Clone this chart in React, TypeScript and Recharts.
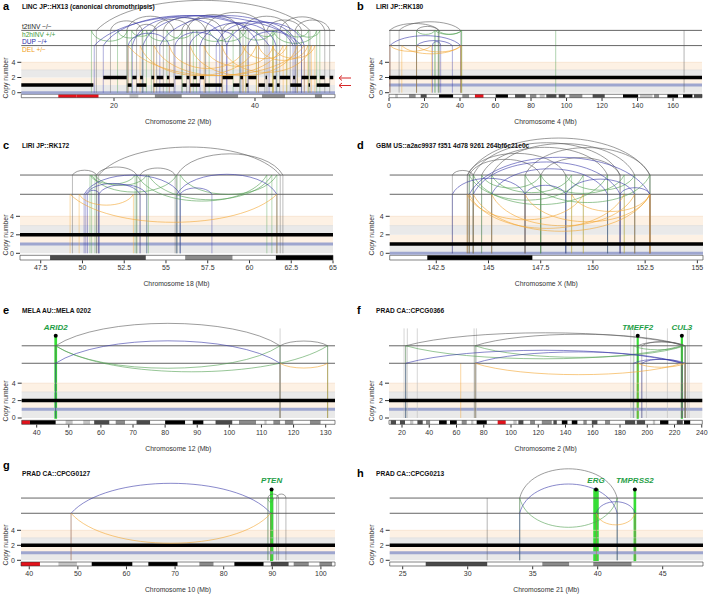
import React from "react";
import { ComposedChart, XAxis, YAxis, ReferenceLine, ReferenceArea, ReferenceDot, Label } from "recharts";

type SvType = "t2t" | "h2h" | "dup" | "del";
type Sv = [number, number, SvType];
type Seg = [number, number, number];
type Band = [number, number, string];
type Gene = [number, number, string];

const svColor: Record<SvType, string> = { t2t: "#5a5a5a", h2h: "#4f9e4f", dup: "#3838a8", del: "#f3a530" };
const stainColor: Record<string, string> = { gpos25: "#c4c4c4", gpos50: "#8a8a8a", gpos75: "#4a4a4a", gpos100: "#000000", acen: "#e3121b" };
const geneColor = "#36dd36";

// ---- a: LINC chr22 ----
const svA: Sv[] = [
  [17.5, 47.8, "t2t"], [21.8, 28.5, "t2t"], [23.2, 26.05, "t2t"], [27.0, 33.0, "t2t"], [29.6, 35.3, "t2t"], [30.3, 37.8, "t2t"],
  [32.9, 41.4, "t2t"], [35.4, 39.05, "t2t"], [38.3, 45.0, "t2t"], [41.7, 46.6, "t2t"], [43.5, 49.9, "t2t"], [45.7, 50.6, "t2t"],
  [25.6, 30.8, "t2t"], [19.5, 24.0, "t2t"],
  [16.8, 21.9, "h2h"], [20.5, 24.1, "h2h"], [22.5, 25.3, "h2h"], [24.6, 29.7, "h2h"], [27.5, 31.25, "h2h"], [31.7, 36.9, "h2h"],
  [33.5, 38.7, "h2h"], [37.9, 42.5, "h2h"], [40.2, 43.1, "h2h"], [42.6, 48.75, "h2h"], [44.5, 47.6, "h2h"], [46.0, 49.2, "h2h"],
  [17.2, 46.6, "dup"], [18.48, 42.0, "dup"], [22.0, 27.85, "dup"], [22.6, 36.0, "dup"], [24.1, 40.5, "dup"], [26.5, 45.4, "dup"],
  [28.65, 35.0, "dup"], [30.7, 38.0, "dup"], [32.2, 43.0, "dup"], [34.5, 46.0, "dup"], [36.0, 47.0, "dup"], [39.0, 45.7, "dup"],
  [22.0, 47.0, "del"], [23.7, 40.2, "del"], [25.7, 44.0, "del"], [27.85, 38.7, "del"], [30.8, 46.0, "del"], [32.77, 42.6, "del"],
  [35.3, 48.0, "del"], [38.3, 44.5, "del"], [40.5, 47.5, "del"], [42.5, 48.5, "del"],
];
const cnA: Seg[] = [
  [6.85, 17.07, 1], [21.94, 22.5, 1], [23.2, 24.6, 1], [25.6, 28.5, 1], [29.7, 30.3, 1], [30.8, 32.2, 1], [32.9, 35.3, 1],
  [36.9, 37.8, 1], [38.7, 39.05, 1], [40.5, 41.4, 1], [41.9, 42.5, 1], [43.1, 43.5, 1], [45.0, 46.6, 1], [47.6, 47.8, 1], [48.75, 50.6, 1],
  [18.48, 21.8, 2], [22.6, 23.2, 2], [23.7, 24.1, 2], [25.3, 25.7, 2], [26.05, 27.0, 2], [27.5, 27.85, 2], [28.65, 29.6, 2],
  [30.3, 30.7, 2], [31.25, 31.7, 2], [32.2, 32.77, 2], [35.4, 36.9, 2], [37.9, 38.3, 2], [39.05, 40.2, 2], [41.5, 41.7, 2],
  [42.6, 43.0, 2], [43.5, 45.0, 2], [45.4, 45.7, 2], [46.6, 47.6, 2], [47.8, 48.75, 2], [49.2, 49.9, 2], [50.6, 51.1, 2],
];
const minorA: Seg[] = [[6.85, 51.35, 0]];
const bandsA: Band[] = [
  [12.1, 14.7, "acen"], [14.7, 17.8, "acen"], [22.2, 23.45, "gpos25"], [25.8, 29.6, "gpos50"], [32.2, 37.6, "gpos50"],
  [41.0, 44.25, "gpos50"], [48.5, 49.5, "gpos50"],
];

// ---- b: LIRI chr4 ----
const svB: Sv[] = [
  [0.5, 28.3, "t2t"], [5.7, 40.4, "t2t"], [15.5, 27.8, "t2t"],
  [15.5, 25.9, "h2h"], [25.9, 40.9, "h2h"], [27.8, 40.9, "h2h"],
  [0.5, 40.4, "dup"], [15.5, 35.7, "dup"], [24.5, 29.1, "dup"],
  [0.5, 24.0, "del"], [7.2, 40.4, "del"], [15.5, 40.9, "del"],
];
const singlesB: [number, SvType][] = [[93.9, "h2h"], [166.2, "t2t"]];
const cnB: Seg[] = [[0, 176.3, 2]];
const minorB: Seg[] = [[0, 176.3, 1]];
const bandsB: Band[] = [
  [3.5, 5.0, "gpos25"], [11.3, 15.0, "gpos50"], [17.85, 21.2, "gpos75"], [28.2, 36.1, "gpos100"], [41.3, 45.1, "gpos50"],
  [48.4, 53.2, "acen"], [60.1, 67.0, "gpos100"], [71.0, 77.0, "gpos75"], [79.4, 83.0, "gpos50"], [84.9, 87.7, "gpos25"],
  [88.6, 94.3, "gpos75"], [95.6, 99.3, "gpos75"], [101.6, 108.9, "gpos50"], [114.7, 121.5, "gpos75"], [131.8, 140.3, "gpos100"],
  [141.4, 148.4, "gpos25"], [149.3, 152.1, "gpos50"], [156.8, 162.8, "gpos100"], [165.6, 170.9, "gpos100"], [171.8, 176.3, "gpos75"],
];

// ---- c: LIRI chr18 ----
const svC: Sv[] = [
  [49.4, 50.85, "t2t"], [50.85, 53.25, "t2t"], [53.45, 55.55, "t2t"], [50.97, 61.84, "t2t"], [55.65, 62.0, "t2t"],
  [50.45, 53.15, "h2h"], [50.55, 55.65, "h2h"], [50.75, 53.85, "h2h"], [53.25, 61.04, "h2h"], [53.95, 61.34, "h2h"], [55.85, 61.64, "h2h"],
  [50.1, 55.85, "dup"], [50.2, 53.45, "dup"], [50.97, 53.85, "dup"], [55.65, 61.64, "dup"], [55.85, 57.75, "dup"], [50.3, 51.0, "dup"],
  [49.26, 61.64, "del"], [49.8, 53.05, "del"],
];
const cnC: Seg[] = [[46.26, 65, 2]];
const minorC: Seg[] = [[46.26, 65, 1]];
const bandsC: Band[] = [[48.06, 53.79, "gpos75"], [56.15, 58.98, "gpos50"], [61.58, 65, "gpos100"]];

// ---- d: GBM chrX ----
const svD: Sv[] = [
  [143.27, 144.27, "t2t"], [143.98, 148.7, "t2t"], [144.0, 152.73, "t2t"], [144.27, 151.3, "t2t"], [144.67, 150.7, "t2t"],
  [145.15, 152.0, "t2t"], [146.75, 152.73, "t2t"], [147.5, 151.3, "t2t"], [144.08, 147.5, "t2t"],
  [144.08, 149.54, "h2h"], [144.27, 150.7, "h2h"], [144.67, 147.5, "h2h"], [145.15, 148.98, "h2h"], [146.75, 152.73, "h2h"],
  [147.5, 151.5, "h2h"], [148.7, 152.0, "h2h"],
  [143.27, 146.75, "dup"], [144.08, 152.73, "dup"], [144.27, 151.3, "dup"], [145.15, 150.7, "dup"], [146.75, 148.7, "dup"],
  [148.7, 152.0, "dup"], [151.3, 152.73, "dup"],
  [143.98, 149.54, "del"], [144.08, 151.5, "del"], [144.27, 152.73, "del"], [145.15, 152.0, "del"], [146.75, 152.73, "del"], [148.98, 152.73, "del"],
];
const cnD: Seg[] = [[140.27, 155.27, 1]];
const minorD: Seg[] = [[140.27, 155.27, 0]];
const bandsD: Band[] = [[142.07, 147.1, "gpos100"]];

// ---- e: MELA chr12 ----
const svE: Sv[] = [
  [45.9, 115.8, "t2t"], [115.8, 130.6, "t2t"],
  [45.9, 130.6, "h2h"], [45.9, 115.8, "h2h"],
  [45.9, 115.8, "dup"],
  [115.8, 130.6, "del"],
];
const traE: number[] = [115.8];
const genesE: Gene[] = [[45.75, 46.1, "ARID2"]];
const cnE: Seg[] = [[35.33, 132.9, 2]];
const minorE: Seg[] = [[35.33, 132.9, 1]];
const bandsE: Band[] = [
  [35.33, 37.9, "acen"], [37.9, 45.9, "gpos100"], [49.0, 51.2, "gpos25"], [54.5, 56.6, "gpos25"], [57.9, 62.6, "gpos75"],
  [64.6, 67.5, "gpos50"], [71.1, 75.3, "gpos75"], [80.0, 86.2, "gpos100"], [88.6, 91.9, "gpos100"], [95.7, 100.9, "gpos75"],
  [103.0, 108.3, "gpos50"], [110.9, 111.6, "gpos25"], [113.7, 115.8, "gpos50"], [117.3, 119.9, "gpos50"], [125.1, 128.4, "gpos50"],
];

// ---- f: PRAD chr2 ----
const svF: Sv[] = [
  [22.7, 227.8, "t2t"], [73.6, 227.8, "t2t"], [193.0, 227.8, "t2t"], [196.0, 225.4, "t2t"],
  [22.7, 225.4, "h2h"], [73.6, 227.8, "h2h"], [189.8, 225.4, "h2h"],
  [22.7, 225.4, "dup"], [73.6, 225.4, "dup"], [189.8, 227.8, "dup"], [196.0, 225.4, "dup"],
  [73.6, 225.4, "del"], [193.0, 227.8, "del"],
];
const singlesF: [number, SvType][] = [[63.1, "del"]];
const traF: number[] = [21.5, 23.9, 31.2, 72.9, 74.6, 187.9, 190.3, 199.4, 214.8, 229.5, 230.7];
const genesF: Gene[] = [[192.8, 193.2, "TMEFF2"], [225.2, 225.6, "CUL3"]];
const cnF: Seg[] = [[10.45, 240.4, 2]];
const minorF: Seg[] = [[10.45, 240.4, 1]];
const bandsF: Band[] = [
  [11.7, 15.6, "gpos75"], [18.5, 22.2, "gpos75"], [25.9, 28.3, "gpos25"], [31.3, 35.2, "gpos75"], [37.6, 40.6, "gpos50"],
  [47.2, 52.8, "gpos100"], [55.2, 60.2, "gpos100"], [63.8, 67.5, "gpos50"], [70.7, 72.4, "gpos25"], [74.8, 82.2, "gpos100"],
  [90.2, 96.1, "acen"], [101.7, 104.2, "gpos25"], [105.4, 109.1, "gpos75"], [114.0, 117.6, "gpos50"], [122.6, 129.9, "gpos50"],
  [131.1, 133.6, "gpos75"], [137.3, 141.4, "gpos100"], [144.6, 148.7, "gpos100"], [153.1, 155.6, "gpos50"], [159.3, 163.4, "gpos75"],
  [169.0, 172.7, "gpos50"], [183.7, 191.1, "gpos75"], [192.3, 198.4, "gpos75"], [204.1, 205.8, "gpos25"], [209.4, 215.5, "gpos100"],
  [221.7, 226.1, "gpos75"], [227.0, 231.5, "gpos100"],
];

// ---- g: PRAD chr10 ----
const svG: Sv[] = [
  [89.1, 91.3, "t2t"], [90.9, 92.8, "t2t"],
  [89.1, 90.2, "h2h"],
  [48.6, 89.7, "dup"],
  [48.6, 89.7, "del"],
];
const genesG: Gene[] = [[89.7, 90.0, "PTEN"]];
const cnG: Seg[] = [[38.3, 102.9, 2]];
const minorG: Seg[] = [[38.3, 102.9, 1]];
const bandsG: Band[] = [
  [38.3, 42.2, "acen"], [46.0, 49.8, "gpos25"], [52.85, 61.2, "gpos100"], [64.5, 70.5, "gpos100"], [75.0, 77.9, "gpos50"],
  [82.2, 88.2, "gpos100"], [89.7, 93.35, "gpos75"], [94.4, 97.5, "gpos50"], [99.7, 102.3, "gpos50"],
];

// ---- h: PRAD chr21 ----
const svH: Sv[] = [
  [34.0, 41.5, "t2t"],
  [34.0, 41.5, "h2h"],
  [34.0, 41.5, "dup"], [39.9, 42.87, "dup"],
  [39.9, 42.87, "del"],
];
const singlesH: [number, SvType][] = [[31.5, "t2t"]];
const genesH: Gene[] = [[39.72, 40.02, "ERG"], [42.82, 42.9, "TMPRSS2"]];
const cnH: Seg[] = [[24, 48.1, 2]];
const minorH: Seg[] = [[24, 48.1, 1]];
const bandsH: Band[] = [[26.77, 31.5, "gpos75"], [35.74, 37.8, "gpos50"], [39.66, 42.6, "gpos50"]];

// layout for each row of panels (pixels)
const rows = [
  { chartTop: 0, chartH: 140, plotTop: 0, y0: 92.7, p: 7.6, ideoTop: 94.3, ideoBot: 97.7, yBot: 98, upper: 8.2, lower: 6.2 },
  { chartTop: 136, chartH: 164, plotTop: 150, y0: 253.3, p: 9.25, ideoTop: 255.3, ideoBot: 260, yBot: 260.3, upper: 8.46, lower: 6.38 },
  { chartTop: 300, chartH: 155, plotTop: 320, y0: 418, p: 8.7, ideoTop: 420.3, ideoBot: 424.3, yBot: 424.6, upper: 8.3, lower: 6.29 },
  { chartTop: 450, chartH: 144, plotTop: 470, y0: 560.3, p: 7.5, ideoTop: 562, ideoBot: 566, yBot: 566.3, upper: 8.3, lower: 6.27 },
];

type PanelCfg = {
  id: string; row: number; col: number; title: string; chrom: string; xL: number; xR: number;
  domain: [number, number]; ticks: number[]; sv: Sv[]; cn: Seg[]; minor: Seg[]; bands: Band[];
  singles?: [number, SvType][]; tra?: number[]; genes?: Gene[]; k: number; cap: number;
};

const panels: PanelCfg[] = [
  { id: "a", row: 0, col: 0, title: "LINC JP::HX13 (canonical chromothripsis)", chrom: "22", xL: 21.3, xR: 335, domain: [6.85, 51.35], ticks: [20, 40], sv: svA, cn: cnA, minor: minorA, bands: bandsA, k: 0.3, cap: 30 },
  { id: "b", row: 0, col: 1, title: "LIRI JP::RK180", chrom: "4", xL: 389, xR: 702, domain: [0, 176.3], ticks: [0, 20, 40, 60, 80, 100, 120, 140, 160], sv: svB, cn: cnB, minor: minorB, bands: bandsB, singles: singlesB, k: 0.14, cap: 12 },
  { id: "c", row: 1, col: 0, title: "LIRI JP::RK172", chrom: "18", xL: 20, xR: 333, domain: [46.26, 65], ticks: [47.5, 50, 52.5, 55, 57.5, 60, 62.5, 65], sv: svC, cn: cnC, minor: minorC, bands: bandsC, k: 0.2, cap: 28 },
  { id: "d", row: 1, col: 1, title: "GBM US::a2ac9937 f351 4d78 9261 264bf6c21e0c", chrom: "X", xL: 389.7, xR: 703, domain: [140.27, 155.27], ticks: [142.5, 145, 147.5, 150, 152.5, 155], sv: svD, cn: cnD, minor: minorD, bands: bandsD, k: 0.22, cap: 37 },
  { id: "e", row: 2, col: 0, title: "MELA AU::MELA 0202", chrom: "12", xL: 21.7, xR: 335, domain: [35.33, 132.9], ticks: [40, 50, 60, 70, 80, 90, 100, 110, 120, 130], sv: svE, cn: cnE, minor: minorE, bands: bandsE, tra: traE, genes: genesE, k: 0.1, cap: 26 },
  { id: "f", row: 2, col: 1, title: "PRAD CA::CPCG0366", chrom: "2", xL: 389, xR: 702.3, domain: [10.45, 240.4], ticks: [20, 40, 60, 80, 100, 120, 140, 160, 180, 200, 220, 240], sv: svF, cn: cnF, minor: minorF, bands: bandsF, singles: singlesF, tra: traF, genes: genesF, k: 0.055, cap: 13 },
  { id: "g", row: 3, col: 0, title: "PRAD CA::CPCG0127", chrom: "10", xL: 21, xR: 335, domain: [38.3, 102.9], ticks: [40, 50, 60, 70, 80, 90, 100], sv: svG, cn: cnG, minor: minorG, bands: bandsG, genes: genesG, k: 0.15, cap: 30 },
  { id: "h", row: 3, col: 1, title: "PRAD CA::CPCG0213", chrom: "21", xL: 389.7, xR: 703, domain: [24, 48.1], ticks: [25, 30, 35, 40, 45], sv: svH, cn: cnH, minor: minorH, bands: bandsH, singles: singlesH, genes: genesH, k: 0.3, cap: 30 },
];

const font = "'Liberation Sans', Arial, sans-serif";
const levelOf = (t: SvType, r: typeof rows[number]) => (t === "t2t" || t === "h2h" ? r.upper : r.lower);

// dome between the two pixel ends of a reference segment:
// steep ends for short arcs, softer shoulders for long flat ones
function arcShape(type: SvType, k: number, cap: number) {
  const dir = type === "t2t" || type === "dup" ? -1 : 1;
  return (props: any) => {
    const { x1, y1, x2 } = props;
    const span = Math.abs(x2 - x1);
    const h = Math.max(4, Math.min(k * span, cap));
    const a = 0.25 * (1 - Math.min(1, h / (0.5 * span)));
    const c = y1 + dir * h * (4 / 3);
    const d = `M${x1},${y1} C${x1 + span * a},${c} ${x2 - span * a},${c} ${x2},${y1}`;
    return <path d={d} fill="none" stroke={svColor[type]} strokeWidth={0.7} strokeOpacity={0.85} />;
  };
}

function Panel({ cfg }: { cfg: PanelCfg }) {
  const r = rows[cfg.row];
  const left = cfg.col * 354;
  const toCN = (px: number) => (r.y0 - px) / r.p;
  const yDomain: [number, number] = [toCN(r.yBot), toCN(r.plotTop)];
  const iy1 = toCN(r.ideoBot);
  const iy2 = toCN(r.ideoTop);
  const yAxisW = 16;
  const xAxisH = 26;
  const margin = {
    top: r.plotTop - r.chartTop,
    bottom: r.chartTop + r.chartH - r.yBot - xAxisH,
    left: cfg.xL - left - yAxisW,
    right: left + 354 - cfg.xR,
  };
  const [lo, hi] = cfg.domain;
  const geneTop = 9.45;

  return (
    <div style={{ position: "absolute", left, top: r.chartTop }}>
      <ComposedChart width={354} height={r.chartH} margin={margin} data={[]}>
        <XAxis
          type="number" dataKey="x" domain={cfg.domain} allowDataOverflow ticks={cfg.ticks} interval={0}
          axisLine={false} tickSize={3} height={xAxisH} stroke="#333"
          tick={{ fontSize: 7, fill: "#333", fontFamily: font }}
        >
          <Label value={`Chromosome ${cfg.chrom} (Mb)`} position="insideBottom" offset={0} style={{ fontSize: 6.8, fill: "#333", fontFamily: font }} />
        </XAxis>
        <YAxis
          type="number" domain={yDomain} allowDataOverflow ticks={[0, 2, 4]} interval={0} width={yAxisW}
          axisLine={false} tickSize={4} stroke="#333" tick={{ fontSize: 7, fill: "#333", fontFamily: font }}
        />

        {/* copy number background */}
        <ReferenceArea y1={0} y2={1} fill="#e9e9e9" fillOpacity={1} ifOverflow="visible" />
        <ReferenceArea y1={1} y2={2} fill="#fdf1e4" fillOpacity={1} ifOverflow="visible" />
        <ReferenceArea y1={2} y2={3} fill="#e9e9e9" fillOpacity={1} ifOverflow="visible" />
        <ReferenceArea y1={3} y2={4} fill="#fdf1e4" fillOpacity={1} ifOverflow="visible" />
        <ReferenceLine y={3} stroke="#d6d6d6" strokeWidth={0.6} ifOverflow="visible" />
        <ReferenceLine y={4} stroke="#f3dcc2" strokeWidth={0.6} ifOverflow="visible" />

        {cfg.minor.map(([s, e, v], i) => (
          <ReferenceLine key={`m${i}`} segment={[{ x: s, y: v }, { x: e, y: v }]} stroke="#9ea6cf" strokeWidth={3} ifOverflow="visible" />
        ))}

        {/* breakpoint verticals */}
        {cfg.sv.flatMap(([s, e, t], i) =>
          [s, e].map((x, j) => (
            <ReferenceLine key={`v${i}-${j}`} segment={[{ x, y: levelOf(t, r) }, { x, y: 0 }]} stroke={svColor[t]} strokeOpacity={0.45} strokeWidth={0.9} ifOverflow="visible" />
          ))
        )}
        {(cfg.singles || []).map(([x, t], i) => (
          <ReferenceLine key={`s${i}`} segment={[{ x, y: levelOf(t, r) }, { x, y: 0 }]} stroke={svColor[t]} strokeOpacity={0.5} strokeWidth={0.9} ifOverflow="visible" />
        ))}
        {(cfg.tra || []).map((x, i) => (
          <ReferenceLine key={`t${i}`} segment={[{ x, y: 10.3 }, { x, y: 0 }]} stroke="#bdbdbd" strokeOpacity={0.8} strokeWidth={0.8} ifOverflow="visible" />
        ))}

        {cfg.cn.map(([s, e, v], i) => (
          <ReferenceLine key={`c${i}`} segment={[{ x: s, y: v }, { x: e, y: v }]} stroke="#000" strokeWidth={3.5} ifOverflow="visible" />
        ))}

        <ReferenceLine y={r.upper} stroke="#555" strokeWidth={0.9} ifOverflow="visible" />
        <ReferenceLine y={r.lower} stroke="#555" strokeWidth={0.9} ifOverflow="visible" />

        {/* SV arcs */}
        {cfg.sv.map(([s, e, t], i) => (
          <ReferenceLine key={`a${i}`} segment={[{ x: s, y: levelOf(t, r) }, { x: e, y: levelOf(t, r) }]} ifOverflow="visible" shape={arcShape(t, cfg.k, cfg.cap)} />
        ))}

        {/* ideogram */}
        <ReferenceArea x1={lo} x2={hi} y1={iy1} y2={iy2} fill="#fff" fillOpacity={1} stroke="none" ifOverflow="visible" />
        {cfg.bands.map(([s, e, st], i) => (
          <ReferenceArea key={`b${i}`} x1={s} x2={e} y1={iy1} y2={iy2} fill={stainColor[st]} fillOpacity={1} stroke="none" ifOverflow="visible" />
        ))}
        <ReferenceArea x1={lo} x2={hi} y1={iy1} y2={iy2} fill="none" stroke="#333" strokeWidth={0.6} ifOverflow="visible" />

        {/* highlighted genes */}
        {(cfg.genes || []).map(([s, e], i) => (
          <ReferenceArea key={`g${i}`} x1={s} x2={e} y1={0} y2={geneTop} fill={geneColor} fillOpacity={1} stroke={geneColor} strokeWidth={1.6} ifOverflow="visible" />
        ))}
        {(cfg.genes || []).map(([s, e, name], i) => (
          <ReferenceDot key={`gd${i}`} x={(s + e) / 2} y={geneTop} r={2} fill="#000" stroke="none" ifOverflow="visible">
            <Label value={name} position="top" offset={4} style={{ fontSize: 8, fill: "#1e9e46", fontStyle: "italic", fontWeight: "bold", fontFamily: font }} />
          </ReferenceDot>
        ))}
      </ComposedChart>
    </div>
  );
}

const titleStyle: React.CSSProperties = { position: "absolute", fontFamily: font, fontSize: 6.6, fontWeight: "bold", color: "#111", whiteSpace: "nowrap", lineHeight: "8px" };
const letterStyle: React.CSSProperties = { position: "absolute", fontFamily: font, fontSize: 11, fontWeight: "bold", color: "#000", lineHeight: "11px" };

const titlePos: Record<string, [number, number, number]> = {
  a: [3, 7, 7], b: [357, 7, 7], c: [3, 146, 146], d: [357, 146, 146],
  e: [3, 311, 311], f: [357, 311, 311], g: [3, 466, 474], h: [357, 474, 474],
};

const legend: [string, string][] = [
  ["t2tINV \u2212/\u2212", "#222"],
  ["h2hINV +/+", "#3d9a3d"],
  ["DUP \u2212/+", "#2c2ca8"],
  ["DEL +/\u2212", "#f0a020"],
];

export default function App() {
  return (
    <div style={{ position: "absolute", left: 0, top: 0, width: 708, height: 594, background: "#fff", overflow: "hidden" }}>
      {panels.map((p) => (
        <Panel key={p.id} cfg={p} />
      ))}
      {panels.map((p) => {
        const [lx, ly, ty] = titlePos[p.id];
        const r = rows[p.row];
        const cnLabelY = r.y0 - 2 * r.p;
        return (
          <React.Fragment key={`t${p.id}`}>
            <div style={{ ...letterStyle, left: lx, top: ly - 6 }}>{p.id}</div>
            <div style={{ ...titleStyle, left: p.col * 354 + 22, top: ty - 4 }}>{p.title}</div>
            <div
              style={{
                position: "absolute", left: p.col * 354 + (p.col ? 17 : 5), top: cnLabelY, fontFamily: font, fontSize: 6.8, color: "#333",
                whiteSpace: "nowrap", transform: "translate(-50%, -50%) rotate(-90deg)",
              }}
            >
              Copy number
            </div>
          </React.Fragment>
        );
      })}
      {legend.map(([txt, c], i) => (
        <div key={txt} style={{ position: "absolute", left: 22, top: 23 + i * 7.5, fontFamily: font, fontSize: 6.6, color: c, lineHeight: "7px", whiteSpace: "nowrap" }}>
          {txt}
        </div>
      ))}
      <svg style={{ position: "absolute", left: 336, top: 72 }} width={18} height={20}>
        {[6, 13.5].map((y) => (
          <g key={y} stroke="#d62728" strokeWidth={1} fill="none">
            <line x1={15} y1={y} x2={3} y2={y} />
            <polyline points={`6,${y - 2.5} 3,${y} 6,${y + 2.5}`} />
          </g>
        ))}
      </svg>
    </div>
  );
}
